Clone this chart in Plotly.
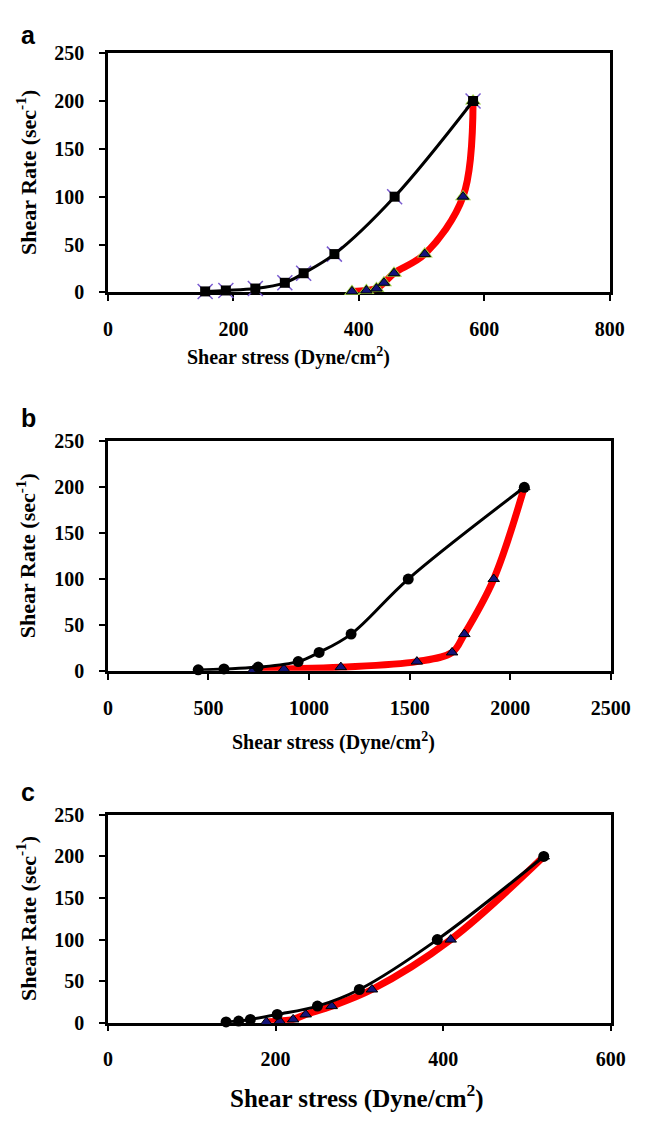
import plotly.graph_objects as go

# ---------------- data ----------------
rates = [1, 2, 4, 10, 20, 40, 100, 200]

a_up_stress = [155, 188, 235, 282, 312, 361, 457, 582]
a_down_stress = [389, 412, 428, 440, 456, 505, 566, 582]

b_up_stress = [449, 577, 747, 946, 1050, 1209, 1493, 2070]
b_down_stress = [723, 875, 1158, 1536, 1711, 1772, 1918, 2070]

c_up_stress = [141, 156, 170, 202, 250, 300, 393, 520]
c_down_stress = [189, 205, 221, 236, 267, 315, 409, 520]

x_ranges = [[0, 800], [0, 2500], [0, 600]]
x_dticks = [200, 500, 200]
panel_letters = ["a", "b", "c"]

W, H = 651, 1121
# plot-area pixel boxes (left, right, top, bottom)
boxes = [(107, 629, 43, 287), (107, 630, 439, 673), (107, 630, 820, 1032)]

SERIF = "Liberation Serif"
SANS = "Liberation Sans"

fig = go.Figure()

RED = "#ff0000"
BLUE = "#14137a"
GREEN = "#9ccc45"
PURPLE = "#7a5bd0"

def add_panel(i, up_x, down_x, style):
    xa = "x" if i == 0 else f"x{i+1}"
    ya = "y" if i == 0 else f"y{i+1}"
    # down curve (red smoothed thick line)
    fig.add_trace(go.Scatter(x=down_x, y=rates, mode="lines",
                             line=dict(color=RED, width=7, shape="spline", smoothing=1.0),
                             xaxis=xa, yaxis=ya, showlegend=False, cliponaxis=False))
    if style == "a":
        fig.add_trace(go.Scatter(x=down_x, y=rates, mode="markers",
                                 marker=dict(symbol="triangle-up", size=14, color=GREEN),
                                 xaxis=xa, yaxis=ya, showlegend=False, cliponaxis=False))
    fig.add_trace(go.Scatter(x=down_x, y=rates, mode="markers",
                             marker=dict(symbol="triangle-up", size=10, color=BLUE,
                                         line=dict(color="black", width=1)),
                             xaxis=xa, yaxis=ya, showlegend=False, cliponaxis=False))
    # up curve (black)
    if style == "a":
        fig.add_trace(go.Scatter(x=up_x, y=rates, mode="markers",
                                 marker=dict(symbol="x-thin", size=15,
                                             line=dict(color=PURPLE, width=1.5)),
                                 xaxis=xa, yaxis=ya, showlegend=False, cliponaxis=False))
    sym = "square" if style == "a" else "circle"
    fig.add_trace(go.Scatter(x=up_x, y=rates, mode="lines+markers",
                             line=dict(color="black", width=3, shape="spline", smoothing=1.0),
                             marker=dict(symbol=sym, size=10 if style == "a" else 11, color="black"),
                             xaxis=xa, yaxis=ya, showlegend=False, cliponaxis=False))

add_panel(0, a_up_stress, a_down_stress, "a")
add_panel(1, b_up_stress, b_down_stress, "b")
add_panel(2, c_up_stress, c_down_stress, "c")

layout = dict(width=W, height=H, margin=dict(l=0, r=0, t=0, b=0),
              paper_bgcolor="white", plot_bgcolor="white", showlegend=False)

tickfont = dict(family=SERIF, size=20, color="black", weight="bold")
for i, (l, r, t, b) in enumerate(boxes):
    xk = "xaxis" if i == 0 else f"xaxis{i+1}"
    yk = "yaxis" if i == 0 else f"yaxis{i+1}"
    ya = "y" if i == 0 else f"y{i+1}"
    xa = "x" if i == 0 else f"x{i+1}"
    layout[xk] = dict(domain=[l / W, r / W], anchor=ya, range=x_ranges[i],
                      dtick=x_dticks[i], tick0=0,
                      showline=True, linecolor="black", linewidth=2.5, mirror=True,
                      ticks="outside", ticklen=6, tickwidth=2, tickcolor="black",
                      showgrid=False, zeroline=False, tickfont=tickfont,
                      ticklabelstandoff=11, layer="below traces")
    layout[yk] = dict(domain=[1 - b / H, 1 - t / H], anchor=xa, range=[0, 250],
                      dtick=50, tick0=0,
                      showline=True, linecolor="black", linewidth=2.5, mirror=True,
                      ticks="outside", ticklen=6, tickwidth=2, tickcolor="black",
                      showgrid=False, zeroline=False, tickfont=tickfont,
                      ticklabelstandoff=11, layer="below traces")

annotations = []
# x titles: (center x px, center y px, font size)
xtitles = [(295, 352, 20), (342, 745, 20), (366, 1107, 25)]
for (cx, cy, fs) in xtitles:
    annotations.append(dict(text="Shear stress (Dyne/cm<sup>2</sup>)", x=cx / W, y=1 - cy / H,
                            xref="paper", yref="paper", xanchor="center", yanchor="middle",
                            showarrow=False,
                            font=dict(family=SERIF, size=fs, color="black", weight="bold")))
for (l, r, t, b) in boxes:
    cy = (t + b) / 2
    annotations.append(dict(text="Shear Rate (sec<sup>-1</sup>)", x=22 / W, y=1 - cy / H,
                            xref="paper", yref="paper", xanchor="center", yanchor="middle",
                            textangle=-90, showarrow=False,
                            font=dict(family=SERIF, size=22, color="black", weight="bold")))
letter_pos = [(24, 24), (24, 415), (24, 797)]
for letter, (lx, ly) in zip(panel_letters, letter_pos):
    annotations.append(dict(text=letter, x=lx / W, y=1 - ly / H, xref="paper", yref="paper",
                            xanchor="center", yanchor="middle", showarrow=False,
                            font=dict(family=SANS, size=25, color="black", weight="bold")))
layout["annotations"] = annotations

fig.update_layout(**layout)
fig.write_html("out.html")
